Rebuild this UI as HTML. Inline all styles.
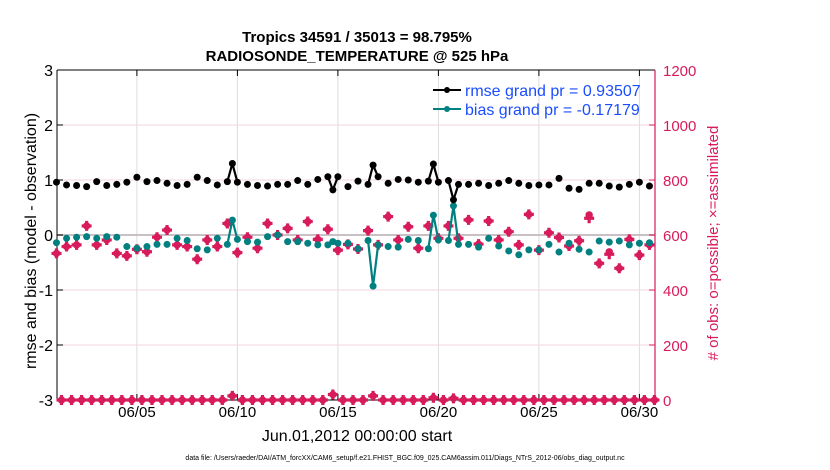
<!DOCTYPE html>
<html><head><meta charset="utf-8"><style>
body{margin:0;background:#fff;}
svg{display:block;font-family:"Liberation Sans",sans-serif;}
</style></head><body>
<svg id="chart" width="830" height="470" viewBox="0 0 830 470" xmlns="http://www.w3.org/2000/svg">
<rect width="830" height="470" fill="#fff"/>
<g id="grid"></g>
<g id="axes"></g>
<g id="marks"></g>
<text x="357" y="42" text-anchor="middle" font-size="15" font-weight="bold">Tropics 34591  / 35013 = 98.795%</text>
<text x="357" y="61" text-anchor="middle" font-size="15" font-weight="bold">RADIOSONDE_TEMPERATURE @ 525 hPa</text>
<text transform="translate(36,241) rotate(-90)" text-anchor="middle" font-size="16">rmse and bias (model - observation)</text>
<text transform="translate(718,243) rotate(-90)" text-anchor="middle" font-size="15" fill="#d81b5a"># of obs: o=possible; ×=assimilated</text>
<text x="357" y="441" text-anchor="middle" font-size="16">Jun.01,2012 00:00:00 start</text>
<text x="405" y="460" text-anchor="middle" font-size="7">data file: /Users/raeder/DAI/ATM_forcXX/CAM6_setup/f.e21.FHIST_BGC.f09_025.CAM6assim.011/Diags_NTrS_2012-06/obs_diag_output.nc</text>
<g>
<line x1="433" y1="90" x2="461" y2="90" stroke="#000" stroke-width="2"/>
<circle cx="447" cy="90" r="3" fill="#000"/>
<text x="465" y="96" font-size="16" fill="#1a4dff">rmse grand pr = 0.93507</text>
<line x1="433" y1="109" x2="461" y2="109" stroke="#008080" stroke-width="2"/>
<circle cx="447" cy="109" r="3" fill="#008080"/>
<text x="465" y="115" font-size="16" fill="#1a4dff">bias grand pr = -0.17179</text>
</g>
</svg>
<script>
// quarter-day steps, t = i*0.25 days from Jun 1 00Z
const rmse = [.96,null,.91,null,.90,null,.88,null, .97,null,.90,null,.92,null,.96,null,
 1.05,null,.97,null,.99,null,.94,null, .90,null,.92,null,1.05,null,.99,null,
 .91,null,.97,1.30,.96,null,.92,null, .90,null,.89,null,.92,null,.92,null,
 .99,null,.92,null,1.01,null,1.06,.82, 1.06,null,.88,null,.98,null,.92,1.27,
 1.06,null,.94,null,1.01,null,1.00,null, .96,null,.98,1.29,.96,null,.99,.64,
 .92,null,.92,null,.94,null,.90,null, .94,null,.99,null,.94,null,.90,null,
 .91,null,.91,null,1.03,null,.85,null, .83,null,.94,null,.94,null,.89,null,
 .87,null,.92,null,.96,null,.89,null];
const bias = [-.14,null,-.06,null,-.04,null,-.03,null, -.06,null,-.03,null,-.04,null,-.21,null,
 -.24,null,-.21,null,-.17,null,-.17,null, -.06,null,-.10,null,-.25,null,-.27,null,
 -.06,null,-.17,.27,-.08,null,-.12,null, -.13,null,-.03,null,0.0,null,-.12,null,
 -.12,null,-.15,null,-.18,null,-.18,-.12, -.15,null,-.15,null,-.25,null,-.10,-.93,
 -.18,null,-.21,null,-.22,null,-.08,null, -.10,null,-.25,.36,-.09,null,-.10,.53,
 -.17,null,-.17,null,-.22,null,-.06,null, -.20,null,-.29,null,-.36,null,-.27,null,
 -.27,null,-.17,null,-.31,null,-.15,null, -.26,null,-.31,null,-.11,null,-.13,null,
 -.11,null,-.18,null,-.15,null,-.14,null];
const nPossible = [533,0,558,0,564,0,633,0, 564,0,582,0,533,0,524,0,
 548,0,539,0,592,0,618,0, 564,0,558,0,512,0,582,0,
 558,0,642,15,536,0,592,0, 552,0,642,0,600,0,624,0,
 582,0,649,0,584,0,621,20, 545,0,566,0,549,0,616,15,
 564,0,667,0,582,0,630,0, 552,0,633,8,588,0,633,6,
 588,0,655,0,567,0,651,0, 582,0,612,0,564,0,675,0,
 545,0,608,0,591,0,560,0, 579,0,673,0,497,0,539,0,
 479,0,584,0,527,0,564,0];
const nAssim = [533,0,558,0,564,0,633,0, 564,0,582,0,533,0,524,0,
 548,0,539,0,592,0,618,0, 564,0,558,0,512,0,582,0,
 558,0,642,15,536,0,592,0, 552,0,642,0,600,0,624,0,
 582,0,649,0,584,0,621,20, 545,0,566,0,549,0,616,15,
 564,0,667,0,582,0,630,0, 552,0,633,8,588,0,633,6,
 588,0,655,0,567,0,651,0, 582,0,612,0,564,0,675,0,
 545,0,608,0,591,0,560,0, 579,0,661,0,497,0,530,0,
 479,0,584,0,527,0,564,0];
const timeStep = 0.25;
const yTicks = [3,2,1,0,-1,-2,-3];
const y2Ticks = [0,200,400,600,800,1000,1200];
const xTickDays = [4,9,14,19,24,29];
const xTickLabels = ["06/05","06/10","06/15","06/20","06/25","06/30"];

const NS="http://www.w3.org/2000/svg";
const L=57,R=655,T=70,B=400;
const x=d=>56.5+d*20.1;
const y=v=>235-v*55;
const y2=n=>400-n*0.275;
function mk(tag,attrs,parent){const e=document.createElementNS(NS,tag);for(const k in attrs)e.setAttribute(k,attrs[k]);parent.appendChild(e);return e;}
const grid=document.getElementById('grid'),axes=document.getElementById('axes'),marks=document.getElementById('marks');
const PINK="#d81b5a";

xTickDays.forEach((d,i)=>{
  const g=mk('line',{x1:x(d),x2:x(d),y1:T,y2:B,stroke:'#dcdcdc','stroke-width':1},grid);
  
  
  mk('line',{x1:x(d),x2:x(d),y1:B,y2:B-6,stroke:'#000'},axes);
  mk('line',{x1:x(d),x2:x(d),y1:T,y2:T+6,stroke:'#000'},axes);
  const t=mk('text',{x:x(d),y:417,'text-anchor':'middle','font-size':15},axes);
  t.textContent=xTickLabels[i];
  
  
});
y2Ticks.forEach(n=>{
  if(n>0&&n<1200){const g=mk('line',{x1:L,x2:R,y1:y2(n),y2:y2(n),stroke:'#f2d6df','stroke-width':1},grid);
  
  }
  mk('line',{x1:R,x2:R-6,y1:y2(n),y2:y2(n),stroke:PINK},axes);
  const t=mk('text',{x:663,y:y2(n)+6,'font-size':15,fill:PINK},axes);
  t.textContent=n;
  
  
});
yTicks.forEach(v=>{
  mk('line',{x1:L,x2:L+6,y1:y(v),y2:y(v),stroke:'#000'},axes);
  const t=mk('text',{x:53,y:y(v)+6,'text-anchor':'end','font-size':16},axes);
  t.textContent=v;
  
  
});
const zl=mk('line',{x1:L,x2:R,y1:y(0),y2:y(0),stroke:'#c8c0c4','stroke-width':2},grid);


mk('line',{x1:L,x2:R,y1:T,y2:T,stroke:'#000'},axes);
mk('line',{x1:L,x2:R,y1:B,y2:B,stroke:'#000'},axes);
mk('line',{x1:L,x2:L,y1:T,y2:B,stroke:'#000'},axes);
mk('line',{x1:R,x2:R,y1:T,y2:B,stroke:PINK,'stroke-width':1.2},axes);

// counts
for(let i=0;i<nPossible.length;i++){
  const cx=x(i*timeStep);
  const cy=y2(nAssim[i]);
  const p=mk('path',{d:`M${cx-5},${cy}H${cx+5}M${cx},${cy-5}V${cy+5}`,stroke:PINK,'stroke-width':3.2},marks);
  
  
  const c=mk('circle',{cx:cx,cy:y2(nPossible[i]),r:3.2,fill:PINK,stroke:PINK,'stroke-width':1},marks);
  
  
}
function series(vals,color,name){
  let d='';
  for(let i=1;i<vals.length;i++){
    if(vals[i]!=null&&vals[i-1]!=null)d+=`M${x((i-1)*timeStep)},${y(vals[i-1])}L${x(i*timeStep)},${y(vals[i])}`;
  }
  if(d){const l=mk('path',{d:d,stroke:color,'stroke-width':2.2,fill:'none'},marks);
  
  }
  vals.forEach((v,i)=>{
    if(v==null)return;
    const c=mk('circle',{cx:x(i*timeStep),cy:y(v),r:3.5,fill:color},marks);
    
    
  });
}
series(bias,'#008080','bias');
series(rmse,'#000','rmse');
</script>
</body></html>
